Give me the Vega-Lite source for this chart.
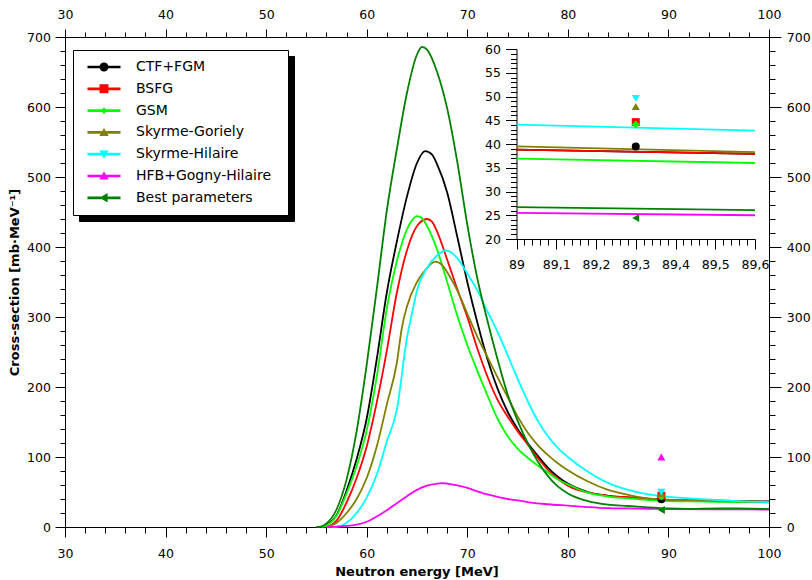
{
  "$schema": "https://vega.github.io/schema/vega-lite/v6.json",
  "width": 704,
  "height": 490,
  "autosize": {"type": "none"},
  "padding": {"left": 65, "top": 37, "right": 43, "bottom": 53},
  "background": "white",
  "config": {"font": "DejaVu Sans", "view": {"stroke": null}},
  "datasets": {
    "curves": [
      {"s":"CTF+FGM","x":55.5,"y":0},{"s":"CTF+FGM","x":56,"y":3},{"s":"CTF+FGM","x":57,"y":17},{"s":"CTF+FGM","x":58,"y":52},{"s":"CTF+FGM","x":59,"y":97},{"s":"CTF+FGM","x":60,"y":155},{"s":"CTF+FGM","x":61,"y":240},{"s":"CTF+FGM","x":62,"y":335},{"s":"CTF+FGM","x":63,"y":408},{"s":"CTF+FGM","x":64,"y":472},{"s":"CTF+FGM","x":65,"y":520},{"s":"CTF+FGM","x":65.8,"y":537},{"s":"CTF+FGM","x":66.5,"y":532},{"s":"CTF+FGM","x":67,"y":518},{"s":"CTF+FGM","x":68,"y":478},{"s":"CTF+FGM","x":69,"y":415},{"s":"CTF+FGM","x":70,"y":350},{"s":"CTF+FGM","x":71,"y":292},{"s":"CTF+FGM","x":72,"y":240},{"s":"CTF+FGM","x":73,"y":198},{"s":"CTF+FGM","x":74,"y":165},{"s":"CTF+FGM","x":75,"y":140},{"s":"CTF+FGM","x":76,"y":120},{"s":"CTF+FGM","x":77,"y":102},{"s":"CTF+FGM","x":78,"y":85},{"s":"CTF+FGM","x":79,"y":72},{"s":"CTF+FGM","x":80,"y":62},{"s":"CTF+FGM","x":82,"y":50},{"s":"CTF+FGM","x":84,"y":44.5},{"s":"CTF+FGM","x":86,"y":42},{"s":"CTF+FGM","x":88,"y":40},{"s":"CTF+FGM","x":90,"y":38.5},{"s":"CTF+FGM","x":92,"y":38},{"s":"CTF+FGM","x":95,"y":37.5},{"s":"CTF+FGM","x":100,"y":36.5},
      {"s":"BSFG","x":56,"y":0},{"s":"BSFG","x":56.5,"y":3},{"s":"BSFG","x":57,"y":9},{"s":"BSFG","x":58,"y":35},{"s":"BSFG","x":59,"y":70},{"s":"BSFG","x":60,"y":115},{"s":"BSFG","x":61,"y":178},{"s":"BSFG","x":62,"y":252},{"s":"BSFG","x":63,"y":335},{"s":"BSFG","x":64,"y":395},{"s":"BSFG","x":65,"y":430},{"s":"BSFG","x":66,"y":440},{"s":"BSFG","x":66.5,"y":436},{"s":"BSFG","x":67,"y":422},{"s":"BSFG","x":68,"y":382},{"s":"BSFG","x":69,"y":340},{"s":"BSFG","x":70,"y":300},{"s":"BSFG","x":71,"y":255},{"s":"BSFG","x":72,"y":215},{"s":"BSFG","x":73,"y":182},{"s":"BSFG","x":74,"y":158},{"s":"BSFG","x":75,"y":137},{"s":"BSFG","x":76,"y":118},{"s":"BSFG","x":77,"y":99},{"s":"BSFG","x":78,"y":82},{"s":"BSFG","x":79,"y":69},{"s":"BSFG","x":80,"y":59},{"s":"BSFG","x":82,"y":49},{"s":"BSFG","x":84,"y":44.5},{"s":"BSFG","x":86,"y":42.5},{"s":"BSFG","x":88,"y":40.5},{"s":"BSFG","x":90,"y":38.5},{"s":"BSFG","x":92,"y":37.5},{"s":"BSFG","x":95,"y":36.5},{"s":"BSFG","x":100,"y":35.5},
      {"s":"GSM","x":55.5,"y":0},{"s":"GSM","x":56,"y":2},{"s":"GSM","x":57,"y":16},{"s":"GSM","x":58,"y":48},{"s":"GSM","x":59,"y":87},{"s":"GSM","x":60,"y":138},{"s":"GSM","x":61,"y":215},{"s":"GSM","x":62,"y":312},{"s":"GSM","x":63,"y":380},{"s":"GSM","x":64,"y":425},{"s":"GSM","x":64.5,"y":438},{"s":"GSM","x":65,"y":444},{"s":"GSM","x":65.5,"y":441},{"s":"GSM","x":66,"y":430},{"s":"GSM","x":67,"y":396},{"s":"GSM","x":68,"y":350},{"s":"GSM","x":69,"y":302},{"s":"GSM","x":70,"y":260},{"s":"GSM","x":71,"y":223},{"s":"GSM","x":72,"y":188},{"s":"GSM","x":73,"y":155},{"s":"GSM","x":74,"y":130},{"s":"GSM","x":75,"y":112},{"s":"GSM","x":76,"y":99},{"s":"GSM","x":77,"y":88},{"s":"GSM","x":78,"y":78},{"s":"GSM","x":79,"y":68},{"s":"GSM","x":80,"y":61},{"s":"GSM","x":82,"y":49},{"s":"GSM","x":84,"y":43.5},{"s":"GSM","x":86,"y":41},{"s":"GSM","x":88,"y":38.5},{"s":"GSM","x":90,"y":37},{"s":"GSM","x":92,"y":36.5},{"s":"GSM","x":95,"y":36},{"s":"GSM","x":100,"y":35},
      {"s":"Skyrme-Goriely","x":56,"y":0},{"s":"Skyrme-Goriely","x":56.7,"y":3.5},{"s":"Skyrme-Goriely","x":57,"y":6},{"s":"Skyrme-Goriely","x":58,"y":20},{"s":"Skyrme-Goriely","x":59,"y":40},{"s":"Skyrme-Goriely","x":60,"y":70},{"s":"Skyrme-Goriely","x":61,"y":115},{"s":"Skyrme-Goriely","x":62,"y":175},{"s":"Skyrme-Goriely","x":63,"y":235},{"s":"Skyrme-Goriely","x":63.5,"y":285},{"s":"Skyrme-Goriely","x":64,"y":315},{"s":"Skyrme-Goriely","x":65,"y":350},{"s":"Skyrme-Goriely","x":66,"y":370},{"s":"Skyrme-Goriely","x":66.8,"y":379},{"s":"Skyrme-Goriely","x":67.5,"y":374},{"s":"Skyrme-Goriely","x":68,"y":364},{"s":"Skyrme-Goriely","x":69,"y":338},{"s":"Skyrme-Goriely","x":70,"y":305},{"s":"Skyrme-Goriely","x":71,"y":272},{"s":"Skyrme-Goriely","x":72,"y":243},{"s":"Skyrme-Goriely","x":73,"y":214},{"s":"Skyrme-Goriely","x":74,"y":186},{"s":"Skyrme-Goriely","x":75,"y":158},{"s":"Skyrme-Goriely","x":76,"y":135},{"s":"Skyrme-Goriely","x":77,"y":117},{"s":"Skyrme-Goriely","x":78,"y":103},{"s":"Skyrme-Goriely","x":79,"y":91},{"s":"Skyrme-Goriely","x":80,"y":81},{"s":"Skyrme-Goriely","x":82,"y":65},{"s":"Skyrme-Goriely","x":84,"y":53},{"s":"Skyrme-Goriely","x":86,"y":46},{"s":"Skyrme-Goriely","x":88,"y":41},{"s":"Skyrme-Goriely","x":90,"y":39},{"s":"Skyrme-Goriely","x":92,"y":38.5},{"s":"Skyrme-Goriely","x":95,"y":37.5},{"s":"Skyrme-Goriely","x":100,"y":35.5},
      {"s":"Skyrme-Hilaire","x":56.5,"y":0},{"s":"Skyrme-Hilaire","x":57.3,"y":1},{"s":"Skyrme-Hilaire","x":58,"y":6},{"s":"Skyrme-Hilaire","x":59,"y":20},{"s":"Skyrme-Hilaire","x":60,"y":42},{"s":"Skyrme-Hilaire","x":61,"y":75},{"s":"Skyrme-Hilaire","x":62,"y":122},{"s":"Skyrme-Hilaire","x":63,"y":168},{"s":"Skyrme-Hilaire","x":64,"y":270},{"s":"Skyrme-Hilaire","x":64.5,"y":305},{"s":"Skyrme-Hilaire","x":65,"y":338},{"s":"Skyrme-Hilaire","x":66,"y":370},{"s":"Skyrme-Hilaire","x":67,"y":388},{"s":"Skyrme-Hilaire","x":67.9,"y":395},{"s":"Skyrme-Hilaire","x":69,"y":384},{"s":"Skyrme-Hilaire","x":70,"y":362},{"s":"Skyrme-Hilaire","x":71,"y":338},{"s":"Skyrme-Hilaire","x":72,"y":308},{"s":"Skyrme-Hilaire","x":73,"y":279},{"s":"Skyrme-Hilaire","x":74,"y":246},{"s":"Skyrme-Hilaire","x":75,"y":212},{"s":"Skyrme-Hilaire","x":76,"y":180},{"s":"Skyrme-Hilaire","x":77,"y":152},{"s":"Skyrme-Hilaire","x":78,"y":130},{"s":"Skyrme-Hilaire","x":79,"y":113},{"s":"Skyrme-Hilaire","x":80,"y":100},{"s":"Skyrme-Hilaire","x":82,"y":79},{"s":"Skyrme-Hilaire","x":84,"y":63},{"s":"Skyrme-Hilaire","x":86,"y":53},{"s":"Skyrme-Hilaire","x":88,"y":46.5},{"s":"Skyrme-Hilaire","x":90,"y":43},{"s":"Skyrme-Hilaire","x":92,"y":41},{"s":"Skyrme-Hilaire","x":95,"y":38.5},{"s":"Skyrme-Hilaire","x":100,"y":35.5},
      {"s":"HFB+Gogny-Hilaire","x":56,"y":0},{"s":"HFB+Gogny-Hilaire","x":57,"y":0.5},{"s":"HFB+Gogny-Hilaire","x":58,"y":1.5},{"s":"HFB+Gogny-Hilaire","x":59,"y":3.5},{"s":"HFB+Gogny-Hilaire","x":60,"y":7.5},{"s":"HFB+Gogny-Hilaire","x":61,"y":15},{"s":"HFB+Gogny-Hilaire","x":62,"y":24},{"s":"HFB+Gogny-Hilaire","x":63,"y":34},{"s":"HFB+Gogny-Hilaire","x":64,"y":44},{"s":"HFB+Gogny-Hilaire","x":65,"y":53},{"s":"HFB+Gogny-Hilaire","x":66,"y":59},{"s":"HFB+Gogny-Hilaire","x":67,"y":62},{"s":"HFB+Gogny-Hilaire","x":67.5,"y":62.6},{"s":"HFB+Gogny-Hilaire","x":68,"y":62},{"s":"HFB+Gogny-Hilaire","x":69,"y":59.5},{"s":"HFB+Gogny-Hilaire","x":70,"y":56},{"s":"HFB+Gogny-Hilaire","x":71,"y":51},{"s":"HFB+Gogny-Hilaire","x":72,"y":46.5},{"s":"HFB+Gogny-Hilaire","x":73,"y":43},{"s":"HFB+Gogny-Hilaire","x":74,"y":40},{"s":"HFB+Gogny-Hilaire","x":75,"y":38},{"s":"HFB+Gogny-Hilaire","x":76,"y":35.5},{"s":"HFB+Gogny-Hilaire","x":78,"y":32.5},{"s":"HFB+Gogny-Hilaire","x":80,"y":30.5},{"s":"HFB+Gogny-Hilaire","x":82,"y":28.5},{"s":"HFB+Gogny-Hilaire","x":84,"y":27},{"s":"HFB+Gogny-Hilaire","x":86,"y":26.5},{"s":"HFB+Gogny-Hilaire","x":88,"y":26},{"s":"HFB+Gogny-Hilaire","x":90,"y":25.5},{"s":"HFB+Gogny-Hilaire","x":95,"y":25.2},{"s":"HFB+Gogny-Hilaire","x":100,"y":25},
      {"s":"Best parameters","x":55,"y":0},{"s":"Best parameters","x":55.5,"y":1},{"s":"Best parameters","x":56,"y":5},{"s":"Best parameters","x":57,"y":25},{"s":"Best parameters","x":58,"y":68},{"s":"Best parameters","x":59,"y":137},{"s":"Best parameters","x":60,"y":232},{"s":"Best parameters","x":61,"y":340},{"s":"Best parameters","x":62,"y":452},{"s":"Best parameters","x":63,"y":540},{"s":"Best parameters","x":64,"y":620},{"s":"Best parameters","x":65,"y":675},{"s":"Best parameters","x":65.5,"y":686},{"s":"Best parameters","x":66,"y":682},{"s":"Best parameters","x":67,"y":650},{"s":"Best parameters","x":68,"y":598},{"s":"Best parameters","x":69,"y":522},{"s":"Best parameters","x":70,"y":432},{"s":"Best parameters","x":71,"y":355},{"s":"Best parameters","x":72,"y":295},{"s":"Best parameters","x":73,"y":240},{"s":"Best parameters","x":74,"y":190},{"s":"Best parameters","x":75,"y":152},{"s":"Best parameters","x":76,"y":120},{"s":"Best parameters","x":77,"y":94},{"s":"Best parameters","x":78,"y":73},{"s":"Best parameters","x":79,"y":58},{"s":"Best parameters","x":80,"y":48},{"s":"Best parameters","x":82,"y":37},{"s":"Best parameters","x":84,"y":32},{"s":"Best parameters","x":86,"y":30},{"s":"Best parameters","x":88,"y":28},{"s":"Best parameters","x":90,"y":26.5},{"s":"Best parameters","x":92,"y":26},{"s":"Best parameters","x":95,"y":26.5},{"s":"Best parameters","x":97,"y":26.5},{"s":"Best parameters","x":100,"y":25.5}
    ],
    "pts": [
      {"s":"CTF+FGM","x":89.3,"y":39.5},{"s":"BSFG","x":89.3,"y":44.6},{"s":"GSM","x":89.3,"y":44.1},{"s":"Skyrme-Goriely","x":89.3,"y":47.9},{"s":"Skyrme-Hilaire","x":89.3,"y":49.6},{"s":"HFB+Gogny-Hilaire","x":89.3,"y":100},{"s":"Best parameters","x":89.3,"y":24.4}
    ],
    "insetLines": [
      {"s":"CTF+FGM","x":89,"y":38.8},{"s":"CTF+FGM","x":89.6,"y":37.9},
      {"s":"BSFG","x":89,"y":38.8},{"s":"BSFG","x":89.6,"y":37.9},
      {"s":"GSM","x":89,"y":36.9},{"s":"GSM","x":89.6,"y":36.0},
      {"s":"Skyrme-Goriely","x":89,"y":39.5},{"s":"Skyrme-Goriely","x":89.6,"y":38.3},
      {"s":"Skyrme-Hilaire","x":89,"y":44.1},{"s":"Skyrme-Hilaire","x":89.6,"y":42.8},
      {"s":"HFB+Gogny-Hilaire","x":89,"y":25.5},{"s":"HFB+Gogny-Hilaire","x":89.6,"y":25.0},
      {"s":"Best parameters","x":89,"y":26.7},{"s":"Best parameters","x":89.6,"y":26.1}
    ],
    "insetPts": [
      {"s":"CTF+FGM","x":89.3,"y":39.5},{"s":"BSFG","x":89.3,"y":44.6},{"s":"GSM","x":89.3,"y":44.1},{"s":"Skyrme-Goriely","x":89.3,"y":47.9},{"s":"Skyrme-Hilaire","x":89.3,"y":49.6},{"s":"Best parameters","x":89.3,"y":24.4}
    ]
  },
  "resolve": {"scale": {"x": "independent", "y": "independent", "color": "independent", "shape": "independent"}, "axis": {"x": "independent", "y": "independent"}},
  "layer": [
    {
      "resolve": {"axis": {"x": "independent", "y": "independent"}},
      "layer": [
        {
          "data": {"name": "curves"},
          "mark": {"type": "line", "strokeWidth": 1.8, "interpolate": "monotone"},
          "encoding": {
            "x": {"field": "x", "type": "quantitative", "scale": {"domain": [30, 100], "nice": false, "zero": false},
              "axis": {"orient": "bottom", "values": [30,32,34,36,38,40,42,44,46,48,50,52,54,56,58,60,62,64,66,68,70,72,74,76,78,80,82,84,86,88,90,92,94,96,98,100],
                "labelExpr": "datum.value % 10 === 0 ? datum.label : ''", "tickSize": {"condition": {"test": "datum.value % 10 === 0", "value": 10}, "value": 6},
                "labelPadding": 10, "labelFontSize": 12.5, "labelColor": "black", "labelFlush": false, "labelOverlap": false, "labelBound": false,
                "domainColor": "black", "tickColor": "black", "grid": false,
                "title": "Neutron energy [MeV]", "titleFontSize": 13, "titleFontWeight": "bold", "titleColor": "black", "titleX": 351.5, "titleY": 48.5, "titleBaseline": "alphabetic", "titleAlign": "center"}},
            "y": {"field": "y", "type": "quantitative", "scale": {"domain": [0, 700], "nice": false, "zero": false},
              "axis": {"orient": "left", "values": [0,20,40,60,80,100,120,140,160,180,200,220,240,260,280,300,320,340,360,380,400,420,440,460,480,500,520,540,560,580,600,620,640,660,680,700],
                "labelExpr": "datum.value % 100 === 0 ? datum.label : ''", "tickSize": {"condition": {"test": "datum.value % 100 === 0", "value": 10}, "value": 5},
                "labelPadding": 4.6, "labelFontSize": 12.5, "labelColor": "black", "labelFlush": false, "labelOverlap": false, "labelBound": false,
                "domainColor": "black", "tickColor": "black", "grid": false,
                "title": "Cross-section [mb·MeV⁻¹]", "titleFontSize": 13, "titleFontWeight": "bold", "titleColor": "black", "titleX": -47, "titleY": 245, "titleAngle": -90, "titleBaseline": "alphabetic", "titleAlign": "center"}},
            "color": {"field": "s", "type": "nominal", "legend": null,
              "scale": {"domain": ["CTF+FGM","BSFG","GSM","Skyrme-Goriely","Skyrme-Hilaire","HFB+Gogny-Hilaire","Best parameters"], "range": ["#000000","#ff0000","#00ff00","#808000","#00ffff","#ff00ff","#008000"]}}
          }
        },
        {
          "data": {"name": "pts"},
          "mark": {"type": "point", "filled": true, "size": 64, "opacity": 1},
          "encoding": {
            "x": {"field": "x", "type": "quantitative",
              "axis": {"orient": "top", "values": [30,32,34,36,38,40,42,44,46,48,50,52,54,56,58,60,62,64,66,68,70,72,74,76,78,80,82,84,86,88,90,92,94,96,98,100],
                "labelExpr": "datum.value % 10 === 0 ? datum.label : ''", "tickSize": {"condition": {"test": "datum.value % 10 === 0", "value": 8}, "value": 5},
                "labelPadding": 7.6, "labelFontSize": 12.5, "labelColor": "black", "labelFlush": false, "labelOverlap": false, "labelBound": false,
                "domainColor": "black", "tickColor": "black", "grid": false, "title": null}},
            "y": {"field": "y", "type": "quantitative",
              "axis": {"orient": "right", "values": [0,20,40,60,80,100,120,140,160,180,200,220,240,260,280,300,320,340,360,380,400,420,440,460,480,500,520,540,560,580,600,620,640,660,680,700],
                "labelExpr": "datum.value % 100 === 0 ? datum.label : ''", "tickSize": {"condition": {"test": "datum.value % 100 === 0", "value": 12}, "value": 6},
                "labelPadding": 5.3, "labelFontSize": 12.5, "labelColor": "black", "labelFlush": false, "labelOverlap": false, "labelBound": false,
                "domainColor": "black", "tickColor": "black", "grid": false, "title": null}},
            "color": {"field": "s", "type": "nominal", "legend": null},
            "shape": {"field": "s", "type": "nominal", "legend": null,
              "scale": {"domain": ["CTF+FGM","BSFG","GSM","Skyrme-Goriely","Skyrme-Hilaire","HFB+Gogny-Hilaire","Best parameters"], "range": ["circle","square","diamond","triangle-up","triangle-down","triangle-up","triangle-left"]}}
          }
        }
      ]
    },
    {
      "data": {"name": "insetLines"},
      "mark": {"type": "line", "strokeWidth": 1.8},
      "encoding": {
        "x": {"field": "x", "type": "quantitative", "scale": {"domain": [89, 89.6], "range": [451.5, 690], "nice": false, "zero": false},
          "axis": {"orient": "bottom", "offset": -288, "values": [89,89.02,89.04,89.06,89.08,89.1,89.12,89.14,89.16,89.18,89.2,89.22,89.24,89.26,89.28,89.3,89.32,89.34,89.36,89.38,89.4,89.42,89.44,89.46,89.48,89.5,89.52,89.54,89.56,89.58,89.6],
            "labelExpr": "abs(datum.value*10 - round(datum.value*10)) < 0.001 ? replace(format(datum.value, '.1~f'), '.', ',') : ''",
            "tickSize": {"condition": {"test": "abs(datum.value*10 - round(datum.value*10)) < 0.001", "value": 10}, "value": 6},
            "labelPadding": 9, "labelFontSize": 12.5, "labelColor": "black", "labelFlush": false, "labelOverlap": false, "labelBound": false,
            "domainColor": "black", "tickColor": "black", "grid": false, "title": null}},
        "y": {"field": "y", "type": "quantitative", "scale": {"domain": [20, 60], "range": [202, 12], "nice": false, "zero": false},
          "axis": {"orient": "left", "offset": -451.5, "values": [20,21,22,23,24,25,26,27,28,29,30,31,32,33,34,35,36,37,38,39,40,41,42,43,44,45,46,47,48,49,50,51,52,53,54,55,56,57,58,59,60],
            "labelExpr": "datum.value % 5 === 0 ? datum.label : ''", "tickSize": {"condition": {"test": "datum.value % 5 === 0", "value": 11}, "value": 6},
            "labelPadding": 5, "labelFontSize": 12.5, "labelColor": "black", "labelFlush": false, "labelOverlap": false, "labelBound": false,
            "domainColor": "black", "tickColor": "black", "grid": false, "title": null}},
        "color": {"field": "s", "type": "nominal", "legend": null,
          "scale": {"domain": ["CTF+FGM","BSFG","GSM","Skyrme-Goriely","Skyrme-Hilaire","HFB+Gogny-Hilaire","Best parameters"], "range": ["#000000","#ff0000","#00ff00","#808000","#00ffff","#ff00ff","#008000"]}}
      }
    },
    {
      "data": {"name": "insetPts"},
      "mark": {"type": "point", "filled": true, "size": 64, "opacity": 1},
      "encoding": {
        "x": {"field": "x", "type": "quantitative", "scale": {"domain": [89, 89.6], "range": [451.5, 690], "nice": false, "zero": false}, "axis": null},
        "y": {"field": "y", "type": "quantitative", "scale": {"domain": [20, 60], "range": [202, 12], "nice": false, "zero": false}, "axis": null},
        "color": {"field": "s", "type": "nominal", "legend": null,
          "scale": {"domain": ["CTF+FGM","BSFG","GSM","Skyrme-Goriely","Skyrme-Hilaire","HFB+Gogny-Hilaire","Best parameters"], "range": ["#000000","#ff0000","#00ff00","#808000","#00ffff","#ff00ff","#008000"]}},
        "shape": {"field": "s", "type": "nominal", "legend": null,
          "scale": {"domain": ["CTF+FGM","BSFG","GSM","Skyrme-Goriely","Skyrme-Hilaire","HFB+Gogny-Hilaire","Best parameters"], "range": ["circle","square","diamond","triangle-up","triangle-down","triangle-up","triangle-left"]}}
      }
    },
    {
      "data": {"values": []},
      "mark": {"type": "point", "filled": true, "size": 81, "opacity": 1},
      "encoding": {
        "color": {"field": "s", "type": "nominal",
          "scale": {"domain": ["CTF+FGM","BSFG","GSM","Skyrme-Goriely","Skyrme-Hilaire","HFB+Gogny-Hilaire","Best parameters"], "range": ["#000000","#000000","#000000","#000000","#000000","#000000","#000000"]},
          "legend": {"orient": "none", "legendX": 14, "legendY": 19, "title": null, "fillColor": "black", "strokeColor": "black", "padding": 10, "rowPadding": 7.8, "symbolOffset": 14, "labelOffset": 25, "labelExpr": "''", "labelFontSize": 14, "labelColor": "black", "symbolSize": 81, "symbolStrokeWidth": 0, "labelLimit": 400, "zindex": 0}},
        "shape": {"field": "s", "type": "nominal",
          "scale": {"domain": ["CTF+FGM","BSFG","GSM","Skyrme-Goriely","Skyrme-Hilaire","HFB+Gogny-Hilaire","Best parameters"],
            "range": ["M-3.67,-0.3H3.67V0.3H-3.67Z M1,0A1,1 0 1,1 -1,0A1,1 0 1,1 1,0Z M38.6,0L38.6,0.01Z","M-3.67,-0.3H3.67V0.3H-3.67Z M-1,-1H1V1H-1Z M38.6,0L38.6,0.01Z","M-3.67,-0.3H3.67V0.3H-3.67Z M0,-0.75L0.75,0L0,0.75L-0.75,0Z M38.6,0L38.6,0.01Z","M-3.67,-0.3H3.67V0.3H-3.67Z M0,-1L1.05,0.8L-1.05,0.8Z M38.6,0L38.6,0.01Z","M-3.67,-0.3H3.67V0.3H-3.67Z M-1.05,-0.8L1.05,-0.8L0,1Z M38.6,0L38.6,0.01Z","M-3.67,-0.3H3.67V0.3H-3.67Z M0,-1L1.05,0.8L-1.05,0.8Z M38.6,0L38.6,0.01Z","M-3.67,-0.3H3.67V0.3H-3.67Z M-1,0L0.8,-1.05L0.8,1.05Z M38.6,0L38.6,0.01Z"]},
          "legend": {"orient": "none", "legendX": 14, "legendY": 19, "title": null, "fillColor": "black", "strokeColor": "black", "padding": 10, "rowPadding": 7.8, "symbolOffset": 14, "labelOffset": 25, "labelExpr": "''", "labelFontSize": 14, "labelColor": "black", "symbolSize": 81, "symbolStrokeWidth": 0, "labelLimit": 400, "zindex": 0}}
      }
    },
    {
      "data": {"values": []},
      "mark": {"type": "point", "filled": true, "size": 81, "opacity": 1},
      "encoding": {
        "color": {"field": "s", "type": "nominal",
          "scale": {"domain": ["CTF+FGM","BSFG","GSM","Skyrme-Goriely","Skyrme-Hilaire","HFB+Gogny-Hilaire","Best parameters"], "range": ["#000000","#ff0000","#00ff00","#808000","#00ffff","#ff00ff","#008000"]},
          "legend": {"orient": "none", "legendX": 8, "legendY": 13, "title": null, "fillColor": "white", "strokeColor": "black", "padding": 10, "rowPadding": 7.8, "symbolOffset": 14, "labelOffset": 25, "labelFontSize": 14, "labelColor": "black", "symbolSize": 81, "symbolStrokeWidth": 0, "labelLimit": 400, "zindex": 1}},
        "shape": {"field": "s", "type": "nominal",
          "scale": {"domain": ["CTF+FGM","BSFG","GSM","Skyrme-Goriely","Skyrme-Hilaire","HFB+Gogny-Hilaire","Best parameters"],
            "range": ["M-3.67,-0.3H3.67V0.3H-3.67Z M1,0A1,1 0 1,1 -1,0A1,1 0 1,1 1,0Z M38.6,0L38.6,0.01Z","M-3.67,-0.3H3.67V0.3H-3.67Z M-1,-1H1V1H-1Z M38.6,0L38.6,0.01Z","M-3.67,-0.3H3.67V0.3H-3.67Z M0,-0.75L0.75,0L0,0.75L-0.75,0Z M38.6,0L38.6,0.01Z","M-3.67,-0.3H3.67V0.3H-3.67Z M0,-1L1.05,0.8L-1.05,0.8Z M38.6,0L38.6,0.01Z","M-3.67,-0.3H3.67V0.3H-3.67Z M-1.05,-0.8L1.05,-0.8L0,1Z M38.6,0L38.6,0.01Z","M-3.67,-0.3H3.67V0.3H-3.67Z M0,-1L1.05,0.8L-1.05,0.8Z M38.6,0L38.6,0.01Z","M-3.67,-0.3H3.67V0.3H-3.67Z M-1,0L0.8,-1.05L0.8,1.05Z M38.6,0L38.6,0.01Z"]},
          "legend": {"orient": "none", "legendX": 8, "legendY": 13, "title": null, "fillColor": "white", "strokeColor": "black", "padding": 10, "rowPadding": 7.8, "symbolOffset": 14, "labelOffset": 25, "labelFontSize": 14, "labelColor": "black", "symbolSize": 81, "symbolStrokeWidth": 0, "labelLimit": 400, "zindex": 1}}
      }
    }
  ]
}
